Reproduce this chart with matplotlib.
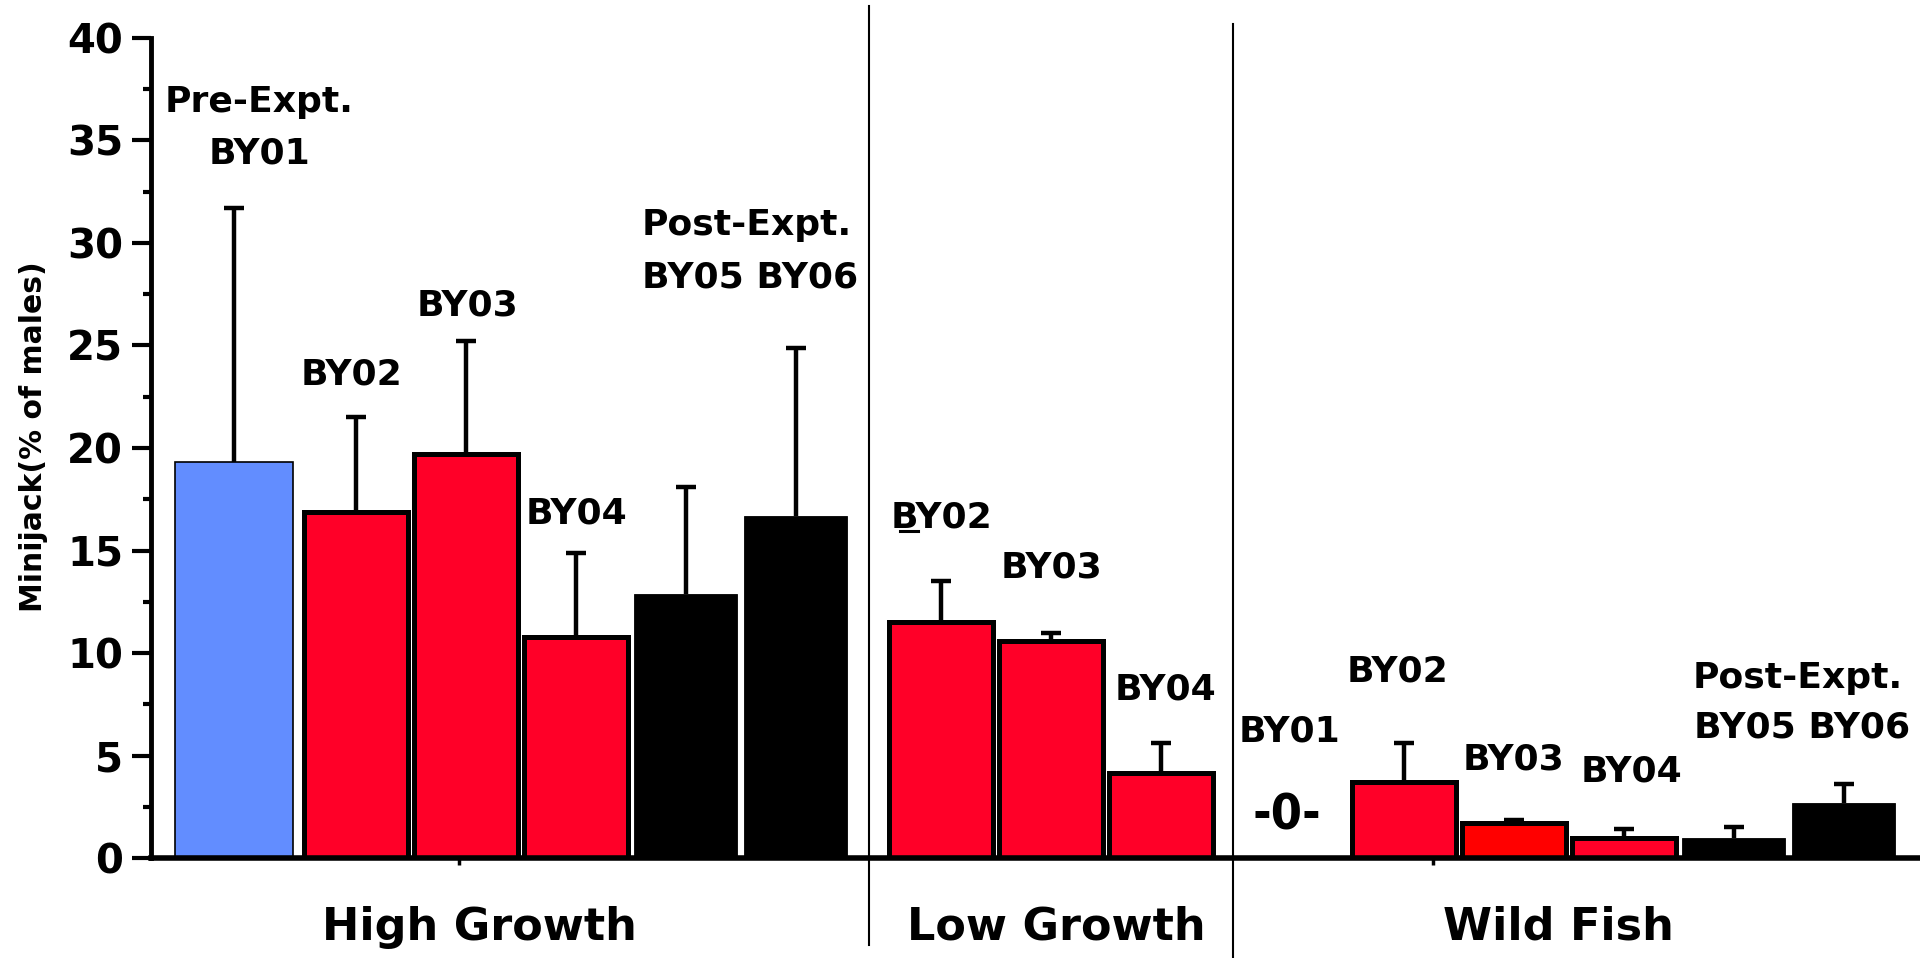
import matplotlib
matplotlib.use("Agg")
import matplotlib.pyplot as plt
from matplotlib.lines import Line2D
from matplotlib.ticker import MultipleLocator

# ---------------- data ----------------
group_names = ["High Growth", "Low Growth", "Wild Fish"]

hg_years = ["BY01", "BY02", "BY03", "BY04", "BY05", "BY06"]
hg_means = [19.3, 16.9, 19.7, 10.8, 12.9, 16.7]
hg_se = [12.4, 4.6, 5.5, 4.1, 5.2, 8.2]
hg_period = ["pre", "exp", "exp", "exp", "post", "post"]

lg_years = ["BY02", "BY03", "BY04"]
lg_means = [11.5, 10.6, 4.15]
lg_se = [2.0, 0.4, 1.45]
lg_period = ["exp", "exp", "exp"]

wf_years = ["BY01", "BY02", "BY03", "BY04", "BY05", "BY06"]
wf_means = [0.0, 3.7, 1.7, 1.0, 1.0, 2.7]
wf_se = [0.0, 1.9, 0.15, 0.4, 0.5, 0.9]
wf_period = ["pre", "exp", "exp2", "exp", "post", "post"]

y_ticks = [0, 5, 10, 15, 20, 25, 30, 35, 40]
y_label = "Minijack(% of males)"

# ---------------- layout (figure pixels) ----------------
W, H = 1920, 958
X0, Y0, YTOP = 151, 858, 38
STEP = 110

fill = {"pre": "#628DFF", "exp": "#FF0028", "exp2": "#FF0000", "post": "#000000"}
edge_lw = {"pre": 1.2, "exp": 3.6, "exp2": 3.6, "post": 0.6}
bar_w = {"pre": 118, "exp": 104, "exp2": 104, "post": 103}

fig = plt.figure(figsize=(W / 100, H / 100), dpi=100)
ax = fig.add_axes([X0 / W, (H - Y0) / H, (W - X0) / W, (Y0 - YTOP) / H])
ax.set_xlim(X0, W)
ax.set_ylim(0, 40)


def yval(px):
    """Convert a vertical pixel position into a value on the y axis."""
    return (Y0 - px) * 40.0 / (Y0 - YTOP)


hg_x = [234] + [356 + STEP * k for k in range(5)]
lg_x = [941 + STEP * k for k in range(3)]
wf_x = [1286] + [1404 + STEP * k for k in range(5)]

for xs, means, ses, periods in [
    (hg_x, hg_means, hg_se, hg_period),
    (lg_x, lg_means, lg_se, lg_period),
    (wf_x, wf_means, wf_se, wf_period),
]:
    for x, m, s, p in zip(xs, means, ses, periods):
        if m <= 0:
            continue
        ax.bar(x, m, width=bar_w[p], color=fill[p], edgecolor="black",
               linewidth=edge_lw[p], zorder=2)
        _, caps, _ = ax.errorbar(x, m, yerr=[[0], [s]], fmt="none",
                                 ecolor="black", elinewidth=3.2, capsize=7,
                                 capthick=3.2, zorder=3)
        # upward-only error bar: hide the cap sitting on the bar top
        caps[0].set_visible(False)

# axes styling
for side in ("top", "right"):
    ax.spines[side].set_visible(False)
ax.spines["left"].set_linewidth(3.5)
ax.spines["bottom"].set_linewidth(4)
ax.set_yticks(y_ticks)
ax.yaxis.set_minor_locator(MultipleLocator(2.5))
ax.tick_params(axis="y", which="major", length=14, width=3, direction="out",
               labelsize=29, pad=6)
ax.tick_params(axis="y", which="minor", length=6, width=3, direction="out")
for lab in ax.get_yticklabels():
    lab.set_fontweight("bold")
ax.set_xticks([459, 1433])
ax.set_xticklabels(["", ""])
ax.tick_params(axis="x", length=5, width=2.5, direction="out")

fig.text(34 / W, 1 - 437 / H, y_label, rotation=90, fontsize=21.5,
         fontweight="bold", ha="center", va="center")

# separators between the groups
for sx, top, bot in [(869, 6, 945), (1233, 24, 958)]:
    fig.add_artist(Line2D([sx / W, sx / W], [1 - top / H, 1 - bot / H],
                          transform=fig.transFigure, color="black", lw=1.5))

# group names
for name, gx in zip(group_names, [479, 1056, 1558]):
    fig.text(gx / W, 1 - 940 / H, name, ha="center", va="baseline",
             fontsize=32, fontweight="bold")

# bar annotations: (text, centre x px, baseline px)
notes = [
    ("Pre-Expt.", 259, 112), (hg_years[0], 260, 164),
    (hg_years[1], 351, 385), (hg_years[2], 467, 316), (hg_years[3], 577, 524),
    ("Post-Expt.", 747, 235), (hg_years[4] + " " + hg_years[5], 750, 288),
    (lg_years[0], 942, 527), (lg_years[1], 1052, 577), (lg_years[2], 1166, 700),
    (wf_years[0], 1290, 742), (wf_years[1], 1398, 682), (wf_years[2], 1514, 769),
    (wf_years[3], 1632, 782),
    ("Post-Expt.", 1798, 688), (wf_years[4] + " " + wf_years[5], 1802, 738),
]
for s, tx, ty in notes:
    ax.text(tx, yval(ty), s, ha="center", va="baseline", fontsize=26,
            fontweight="bold", clip_on=False, zorder=4)

# stray underline beneath the first letter of the Low Growth BY02 label
ax.plot([900, 918], [yval(531), yval(531)], color="black", lw=2.2,
        clip_on=False, zorder=4)

# zero marker for the wild BY01 cohort
ax.text(1287, yval(830), "-%g-" % wf_means[0], ha="center", va="baseline",
        fontsize=36, fontweight="bold", fontstretch="condensed", zorder=4)

fig.savefig("out.png", dpi=100)
